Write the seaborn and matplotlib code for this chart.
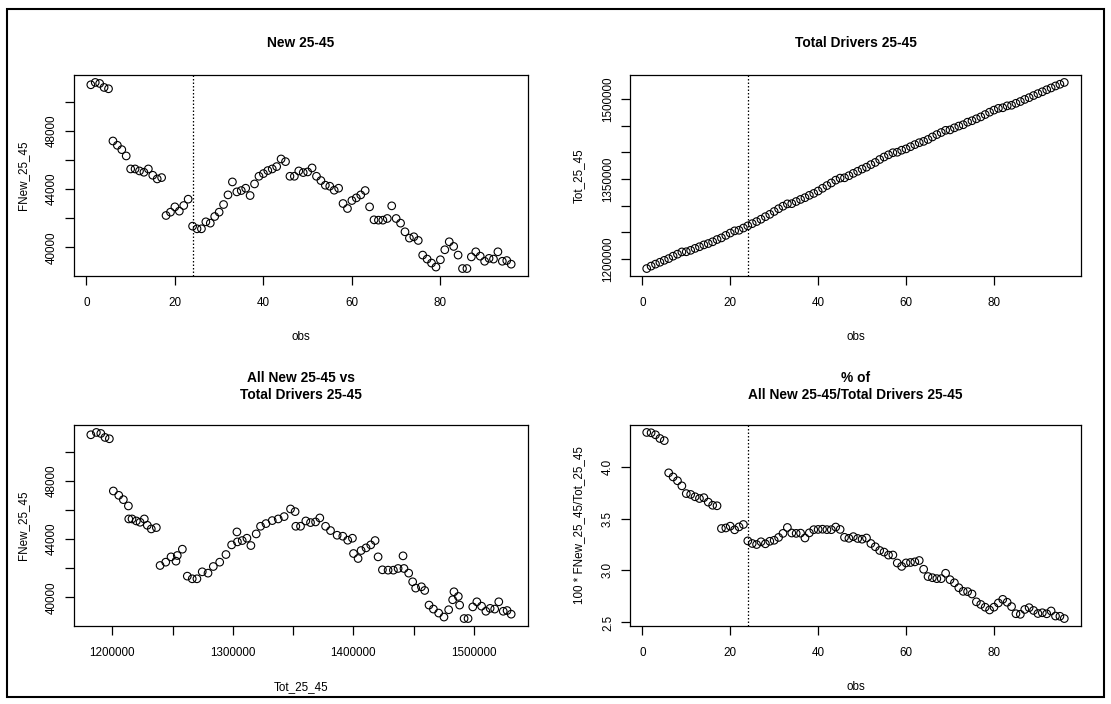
import numpy as np
import pandas as pd
import matplotlib
matplotlib.use("Agg")
import matplotlib.pyplot as plt
import seaborn as sns
from matplotlib.patches import Rectangle

# ---------------- data ----------------
fnew_25_45 = [51164, 51324, 51255, 50981, 50890, 47306, 47009, 46712, 46279, 45387,
              45387, 45250, 45159, 45387, 44953, 44702, 44794, 42192, 42420, 42785,
              42489, 42877, 43311, 41461, 41279, 41279, 41758, 41667, 42123, 42420,
              42945, 43607, 44496, 43813, 43904, 44064, 43561, 44359, 44884, 45068,
              45274, 45387, 45548, 46072, 45890, 44884, 44884, 45250, 45137, 45182,
              45456, 44884, 44589, 44269, 44201, 43927, 44064, 43014, 42671, 43219,
              43402, 43607, 43904, 42785, 41895, 41872, 41872, 41986, 42854, 41986,
              41667, 41073, 40639, 40731, 40479, 39475, 39201, 38927, 38653, 39155,
              39840, 40388, 40068, 39475, 38550, 38550, 39350, 39700, 39400, 39050,
              39250, 39200, 39700, 39050, 39100, 38850]

tot_25_45 = [1182100, 1186700, 1190400, 1193900, 1197500, 1200800, 1205300, 1209100, 1213300, 1213600,
             1216300, 1219900, 1223000, 1226500, 1229000, 1232300, 1236500, 1239600, 1244300, 1248700,
             1252800, 1253900, 1258100, 1262200, 1266300, 1270200, 1274600, 1279400, 1283800, 1289100,
             1294300, 1299000, 1303400, 1303800, 1307800, 1311700, 1315000, 1319400, 1323000, 1327500,
             1332700, 1337700, 1342600, 1347900, 1351700, 1352300, 1356200, 1360600, 1364500, 1368700,
             1372200, 1377000, 1381100, 1386600, 1391300, 1395400, 1399300, 1400200, 1404000, 1406500,
             1410600, 1414500, 1418100, 1420600, 1424200, 1428900, 1433300, 1437200, 1441300, 1442100,
             1446000, 1449300, 1451800, 1456600, 1459300, 1462900, 1466500, 1470900, 1475300, 1479200,
             1482500, 1483600, 1487200, 1488300, 1492000, 1495300, 1499200, 1502600, 1506500, 1510100,
             1513600, 1517400, 1520800, 1524500, 1527700, 1531100]

obs = list(range(1, len(fnew_25_45) + 1))
break_obs = 24

titles = ["New 25-45", "Total Drivers 25-45",
          "All New 25-45 vs\nTotal Drivers 25-45",
          "% of\nAll New 25-45/Total Drivers 25-45"]

fnew_ticks = [40000, 42000, 44000, 46000, 48000, 50000]
fnew_labels = ["40000", "", "44000", "", "48000", ""]
tot_ticks = [1200000, 1250000, 1300000, 1350000, 1400000, 1450000, 1500000]
tot_labels_y = ["1200000", "", "", "1350000", "", "", "1500000"]
tot_labels_x = ["1200000", "", "1300000", "", "1400000", "", "1500000"]
obs_ticks = [0, 20, 40, 60, 80]
pct_ticks = [2.5, 3.0, 3.5, 4.0]

df = pd.DataFrame({"obs": obs, "FNew_25_45": fnew_25_45, "Tot_25_45": tot_25_45})
df["pct"] = 100 * df["FNew_25_45"] / df["Tot_25_45"]

# ---------------- style ----------------
sns.set_theme(style="ticks")
plt.rcParams['font.family'] = ['Liberation Sans', 'DejaVu Sans']
plt.rcParams['axes.linewidth'] = 0.9

W, H = 1111, 704
PX = 0.72  # points per pixel at dpi=100
fig = plt.figure(figsize=(W / 100, H / 100), dpi=100)
fig.patch.set_facecolor("white")


def add_ax(x0, y0, x1, y1):
    return fig.add_axes([x0 / W, 1 - y1 / H, (x1 - x0) / W, (y1 - y0) / H])


def rlim(v):
    lo, hi = min(v), max(v)
    r = hi - lo
    return lo - 0.04 * r, hi + 0.04 * r


boxes = [(74, 75, 528, 276), (630, 75, 1081, 276),
         (74, 425, 528, 626), (630, 425, 1081, 626)]
specs = [("obs", "FNew_25_45", "obs", "FNew_25_45", True),
         ("obs", "Tot_25_45", "obs", "Tot_25_45", True),
         ("Tot_25_45", "FNew_25_45", "Tot_25_45", "FNew_25_45", False),
         ("obs", "pct", "obs", "100 * FNew_25_45/Tot_25_45", True)]

for i, (box, (xc, yc, xl, yl, vline)) in enumerate(zip(boxes, specs)):
    ax = add_ax(*box)
    sns.scatterplot(data=df, x=xc, y=yc, ax=ax, marker="o", s=30,
                    facecolor="none", edgecolor="black", linewidth=0.8, legend=False)
    ax.set_xlim(*rlim(df[xc]))
    ax.set_ylim(*rlim(df[yc]))
    if vline:
        ax.axvline(break_obs, color="black", linestyle=(0, (1.2, 1.6)), linewidth=0.9)
    # ticks
    if xc == "obs":
        ax.set_xticks(obs_ticks)
        ax.set_xticklabels([str(t) for t in obs_ticks])
    else:
        ax.set_xticks(tot_ticks)
        ax.set_xticklabels(tot_labels_x)
    if yc == "FNew_25_45":
        ax.set_yticks(fnew_ticks)
        ax.set_yticklabels(fnew_labels)
    elif yc == "Tot_25_45":
        ax.set_yticks(tot_ticks)
        ax.set_yticklabels(tot_labels_y)
    else:
        ax.set_yticks(pct_ticks)
        ax.set_yticklabels([f"{t:.1f}" for t in pct_ticks])
    ax.tick_params(direction="out", length=9 * PX, width=0.9, labelsize=8.4,
                   colors="black")
    ax.tick_params(axis="x", pad=8.5)
    ax.tick_params(axis="y", pad=5)
    for lab in ax.get_yticklabels():
        lab.set_rotation(90)
        lab.set_va("center")
    for sp in ax.spines.values():
        sp.set_visible(True)
        sp.set_color("black")
    x0, y0, x1, y1 = box
    w, h = x1 - x0, y1 - y0
    ax.set_xlabel(xl, fontsize=8.4, color="black")
    ax.xaxis.set_label_coords(0.5, -(61) / h)
    ax.xaxis.label.set_va("center")
    ax.set_ylabel(yl, fontsize=8.4, color="black")
    ax.yaxis.set_label_coords(-(x0 - (23 if x0 < 300 else 579)) / w, 0.5)
    ax.yaxis.label.set_va("center")
    # title
    if "\n" in titles[i]:
        ty = y0 - 38.5
    else:
        ty = y0 - 32
    fig.text((x0 + x1) / 2 / W, 1 - ty / H, titles[i], ha="center", va="center",
             fontsize=9.9, fontweight="bold", linespacing=1.25, color="black")

# outer frame
fig.patches.append(Rectangle((7 / W, 1 - 697 / H), (1104 - 7) / W, (697 - 9) / H,
                             transform=fig.transFigure, fill=False,
                             edgecolor="black", linewidth=1.5))

fig.savefig("out.png", dpi=100, facecolor="white")
